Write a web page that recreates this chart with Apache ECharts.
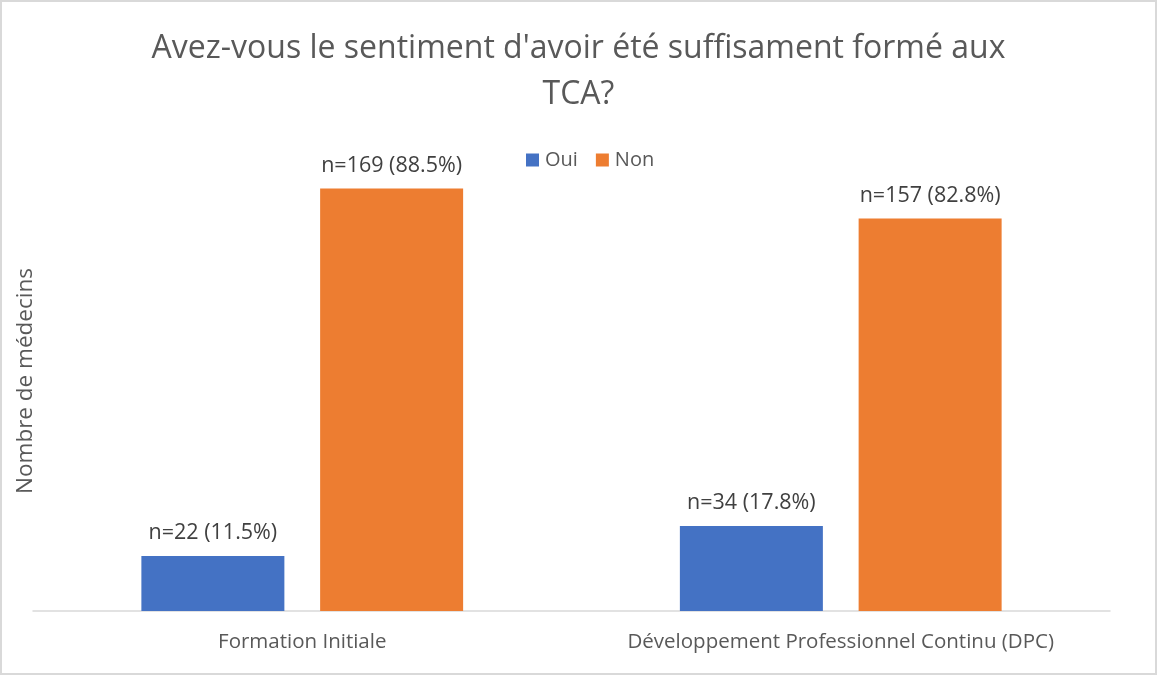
<!DOCTYPE html>
<html>
<head>
<meta charset="utf-8">
<script src="https://cdn.jsdelivr.net/npm/echarts@6/dist/echarts.min.js"></script>
<style>
  html, body { margin: 0; padding: 0; background: #fff; }
  #chart { width: 1157px; height: 675px; box-sizing: border-box; border: 2px solid #d9d9d9; }
</style>
</head>
<body>
<div id="chart"></div>
<script>
// donnees
const categories = ['Formation Initiale', 'Développement Professionnel Continu (DPC)'];
const oui = [22, 34];
const non = [169, 157];
const ouiPct = ['11.5%', '17.8%'];
const nonPct = ['88.5%', '82.8%'];

const FONT = 'Open Sans';
const chart = echarts.init(document.getElementById('chart'), null, { renderer: 'canvas' });

function labelFmt(pcts) {
  return function (p) {
    return 'n=' + p.value + ' (' + pcts[p.dataIndex] + ')';
  };
}

const option = {
  animation: false,
  textStyle: { fontFamily: FONT },
  title: {
    text: "Avez-vous le sentiment d'avoir été suffisament formé aux\nTCA?",
    left: 'center',
    top: 19,
    textStyle: {
      fontFamily: FONT,
      fontSize: 32,
      fontWeight: 'normal',
      color: '#595959',
      lineHeight: 46
    }
  },
  legend: {
    top: 143,
    left: 519,
    itemWidth: 13,
    itemHeight: 13,
    itemGap: 18,
    icon: 'rect',
    textStyle: { fontFamily: FONT, fontSize: 20, color: '#595959', padding: [0, 0, 0, 1] },
    data: ['Oui', 'Non']
  },
  grid: {
    left: 31,
    right: 45,
    top: 109,
    bottom: 62,
    containLabel: false
  },
  xAxis: {
    type: 'category',
    data: categories,
    axisLine: { lineStyle: { color: '#d9d9d9', width: 1.5 } },
    axisTick: { show: false },
    axisLabel: { interval: 0, fontFamily: FONT, fontSize: 20.5, color: '#595959', margin: 21 }
  },
  yAxis: {
    type: 'value',
    min: 0,
    max: 200,
    name: 'Nombre de médecins',
    nameLocation: 'middle',
    nameGap: -4,
    nameTextStyle: { fontFamily: FONT, fontSize: 22.5, color: '#595959', padding: [0, 40, 0, 0] },
    axisLine: { show: false },
    axisTick: { show: false },
    axisLabel: { show: false },
    splitLine: { show: false }
  },
  series: [
    {
      name: 'Oui',
      type: 'bar',
      data: oui,
      barWidth: 143,
      barGap: '25%',
      itemStyle: { color: '#4472c4' },
      label: {
        show: true,
        position: 'top',
        distance: 12,
        fontFamily: FONT,
        fontSize: 21.5,
        color: '#404040',
        formatter: labelFmt(ouiPct)
      }
    },
    {
      name: 'Non',
      type: 'bar',
      data: non,
      barWidth: 143,
      itemStyle: { color: '#ed7d31' },
      label: {
        show: true,
        position: 'top',
        distance: 12,
        fontFamily: FONT,
        fontSize: 21.5,
        color: '#404040',
        formatter: labelFmt(nonPct)
      }
    }
  ]
};

chart.setOption(option);
window.addEventListener('resize', chart.resize);
</script>
</body>
</html>
